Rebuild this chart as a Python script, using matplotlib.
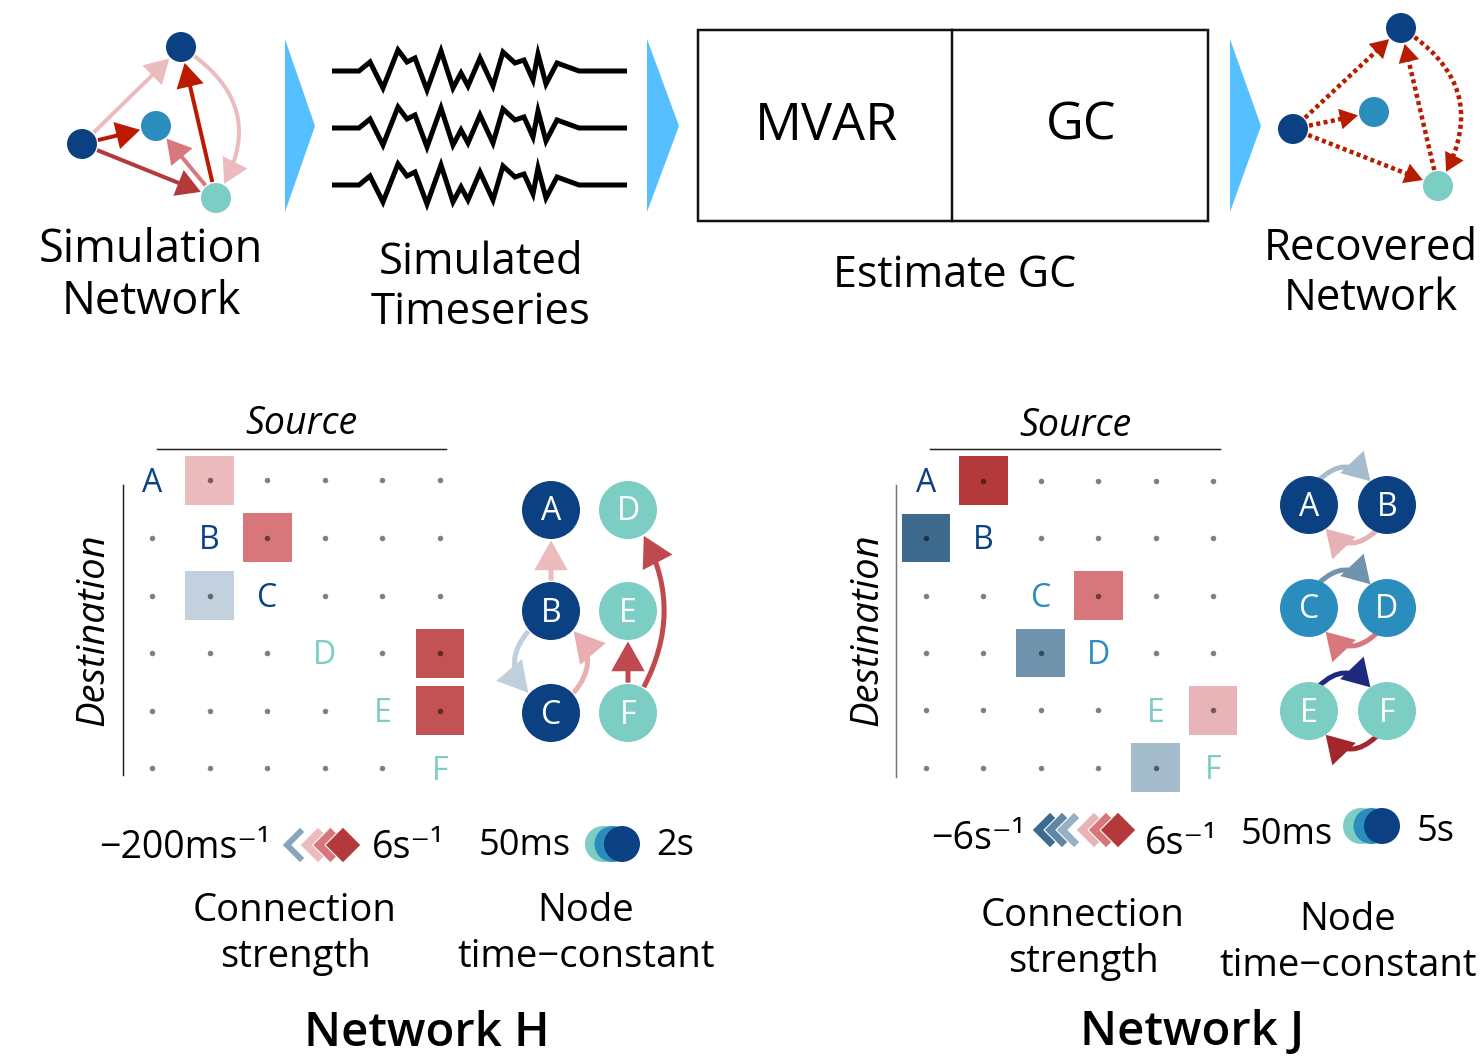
import math
import matplotlib
matplotlib.use("Agg")
import matplotlib.pyplot as plt
from matplotlib.patches import Circle, Rectangle, Polygon, FancyArrowPatch, ArrowStyle
from matplotlib.colors import LinearSegmentedColormap, TwoSlopeNorm

W, H = 1480, 1061
FONT = ['Open Sans', 'DejaVu Sans']
plt.rcParams['font.family'] = FONT

# ---------------------------------------------------------------- data
node_names = ['A', 'B', 'C', 'D', 'E', 'F']

# connection strength, row = destination, column = source (s^-1)
conn_H = [
    [0.0, 1.2, 0.0, 0.0, 0.0, 0.0],
    [0.0, 0.0, 3.0, 0.0, 0.0, 0.0],
    [0.0, -0.03, 0.0, 0.0, 0.0, 0.0],
    [0.0, 0.0, 0.0, 0.0, 0.0, 4.8],
    [0.0, 0.0, 0.0, 0.0, 0.0, 4.8],
    [0.0, 0.0, 0.0, 0.0, 0.0, 0.0],
]
conn_J = [
    [0.0, 6.0, 0.0, 0.0, 0.0, 0.0],
    [-6.0, 0.0, 0.0, 0.0, 0.0, 0.0],
    [0.0, 0.0, 0.0, 3.0, 0.0, 0.0],
    [0.0, 0.0, -3.0, 0.0, 0.0, 0.0],
    [0.0, 0.0, 0.0, 0.0, 0.0, 1.4],
    [0.0, 0.0, 0.0, 0.0, -1.6, 0.0],
]
strength_range_H = (-0.2, 6.0)
strength_range_J = (-6.0, 6.0)
legend_levels_H = [-0.08, 1.2, 3.0, 6.0]
legend_levels_J = [-6.0, -4.0, -2.0, 1.4, 3.0, 6.0]

# node time-constant classes (0 = 50 ms ... 2 = longest)
tau_class_H = [2, 2, 2, 0, 0, 0]
tau_class_J = [2, 2, 1, 1, 0, 0]
tau_colors = ['#7ccdc4', '#2b8cbe', '#0b4182']

# shape of the simulated time series trace (x, vertical offset)
trace_x = [332, 359, 370, 383, 398, 407, 415, 427, 441, 453, 461, 468, 480,
           493, 503, 515, 524, 533, 538, 546, 557, 579, 627]
trace_dy = [0, 0, -9, 17, -21, -9, -13, 19, -20, 17, 2, 15, -13,
            15, -19, -8, -11, 9, -17, 13, -8, 0, 0]
trace_base = [71, 128, 185]

# ---------------------------------------------------------------- colours
cmap = LinearSegmentedColormap.from_list('gc', [
    (0.0, '#3e6a8e'), (0.25, '#7094ae'), (0.42, '#bfcfdb'), (0.5, '#ffffff'),
    (0.6, '#ebbbbe'), (0.75, '#d8787c'), (1.0, '#b3393a')])

fig = plt.figure(figsize=(W / 100, H / 100), dpi=100)
ax = fig.add_axes([0, 0, 1, 1])
ax.set_xlim(0, W)
ax.set_ylim(H, 0)
ax.axis('off')

PX = 1 / 1.389  # points per pixel


def text(x, y, s, size, **kw):
    kw.setdefault('ha', 'center')
    kw.setdefault('va', 'center')
    ax.text(x, y, s, fontsize=size, family=FONT, **kw)


def arrow(p, q, pa, pb, color, lw, rad=0.0, hl=14, hw=7, z=2):
    st = ArrowStyle('-|>', head_length=hl, head_width=hw)
    a = FancyArrowPatch(p, q, patchA=pa, patchB=pb, arrowstyle=st,
                        mutation_scale=1, connectionstyle=f'arc3,rad={rad}',
                        color=color, lw=lw, shrinkA=1, shrinkB=1,
                        zorder=z, capstyle='butt', joinstyle='miter')
    ax.add_patch(a)


def dotted_arrow(p, q, pa, pb, color, lw, rad=0.0, hl=14, hw=7, z=2):
    cs = f'arc3,rad={rad}'
    shaft = FancyArrowPatch(p, q, patchA=pa, patchB=pb, arrowstyle='-',
                            connectionstyle=cs, color=color, lw=lw,
                            linestyle=(0, (0.9, 0.75)), shrinkA=1,
                            shrinkB=1 + 0.6 * hl, zorder=z, capstyle='butt')
    ax.add_patch(shaft)
    st = ArrowStyle('-|>', head_length=hl, head_width=hw)
    head = FancyArrowPatch(p, q, patchA=pa, patchB=pb, arrowstyle=st,
                           mutation_scale=1, connectionstyle=cs, color=color,
                           lw=0.01, shrinkA=1, shrinkB=1, zorder=z)
    ax.add_patch(head)


def node(x, y, r, color, label=None, size=23):
    c = Circle((x, y), r, color=color, zorder=5, lw=0)
    ax.add_patch(c)
    if label:
        ax.text(x, y + 2, label, color='white', fontsize=size, ha='center',
                va='center', zorder=6, family=FONT)
    return c


def rim(center, r, deg):
    x, y = center
    return (x + r * math.cos(math.radians(deg)),
            y - r * math.sin(math.radians(deg)))


# ---------------------------------------------------------------- top row
# simulation network
sim_pos = [(82, 144), (181, 47), (156, 126), (216, 198)]
sim_col = ['#0b4182', '#0b4182', '#2b8cbe', '#7ccdc4']
sim_nodes = [node(x, y, 15, c) for (x, y), c in zip(sim_pos, sim_col)]
sim_edges = [(0, 1, '#ebbbbe', 0.0), (0, 2, '#bb1a00', 0.0),
             (0, 3, '#b3393a', 0.0), (3, 2, '#d8787c', 0.0),
             (3, 1, '#bb1a00', 0.0), (1, 3, '#ebbbbe', -0.5)]
for i, j, c, r in sim_edges:
    arrow(sim_pos[i], sim_pos[j], sim_nodes[i], sim_nodes[j], c, 4 * PX,
          rad=r, hl=13, hw=7.5)
text(151, 276, 'Simulation\nNetwork', 32.5, linespacing=1.15)

# recovered network
rec_pos = [(1293, 129), (1401, 28), (1374, 112), (1438, 186)]
rec_nodes = [node(x, y, 15, c) for (x, y), c in zip(rec_pos, sim_col)]
rec_edges = [(0, 1, 0.0), (0, 2, 0.0), (0, 3, 0.0), (3, 1, 0.0), (1, 3, -0.5)]
for i, j, r in rec_edges:
    dotted_arrow(rec_pos[i], rec_pos[j], rec_nodes[i], rec_nodes[j],
                 '#b81c00', 4.5 * PX, rad=r, hl=13, hw=7.5)
text(1371, 274, 'Recovered\nNetwork', 31.5, linespacing=1.15)

# flow chevrons
for x0, x1 in [(285, 315), (647, 679), (1230, 1261)]:
    ax.add_patch(Polygon([(x0, 39), (x0, 212), (x1, 126)], closed=True,
                         color='#55bfff', lw=0))

# simulated time series
for b in trace_base:
    ax.plot(trace_x, [b + d for d in trace_dy], color='black', lw=5 * PX,
            solid_joinstyle='miter', solid_capstyle='butt')
text(481, 288, 'Simulated\nTimeseries', 31.5, linespacing=1.15)

# MVAR / GC box
ax.add_patch(Rectangle((698, 30), 510, 191, fill=False, lw=2.5 * PX,
                       ec='#111111'))
ax.plot([952, 952], [30, 221], color='#111111', lw=2.5 * PX)
text(827, 126, 'MVAR', 37.5)
text(1081, 126, 'GC', 37.5)
text(955, 276, 'Estimate GC', 31)


# ---------------------------------------------------------------- matrices
def matrix_panel(conn, vrange, left, top, step, label_colors):
    norm = TwoSlopeNorm(vmin=vrange[0], vcenter=0.0, vmax=vrange[1])
    n = len(conn)
    mx = fig.add_axes([left / W, 1 - (top + n * step) / H,
                       n * step / W, n * step / H])
    mx.set_xlim(-0.5, n - 0.5)
    mx.set_ylim(n - 0.5, -0.5)
    mx.patch.set_alpha(0)
    mx.axis('off')
    s = 0.85
    for i in range(n):
        for j in range(n):
            v = conn[i][j]
            if i == j:
                mx.text(j, i + 0.05, node_names[i], color=label_colors[i],
                        fontsize=23, ha='center', va='center', family=FONT)
                continue
            if v != 0:
                mx.add_patch(Rectangle((j - s / 2, i - s / 2), s, s,
                                       color=cmap(norm(v)), lw=0))
            mx.plot(j, i, 'o', ms=5.5 * PX, color='black', alpha=0.5,
                    mew=0)
    return norm


lab_H = [tau_colors[c] for c in tau_class_H]
lab_J = [tau_colors[c] for c in tau_class_J]
norm_H = matrix_panel(conn_H, strength_range_H, 123.2, 451.5, 57.6, lab_H)
norm_J = matrix_panel(conn_J, strength_range_J, 897.3, 452.0, 57.4, lab_J)

# axis titles
for cx, y, x0, x1, vx, vy0, vy1, dx, lc in [
        (301, 424, 157, 446, 123, 485, 775, 93, '#222222'),
        (1075, 426, 930, 1220, 896, 485, 777, 867, '#777777')]:
    text(cx, y, 'Source', 27, style='italic')
    ax.plot([x0, x1], [449, 449], color='#222222', lw=1.5 * PX)
    ax.plot([vx, vx], [vy0, vy1], color=lc, lw=1.5 * PX)
    text(dx, 630, 'Destination', 27.5, style='italic', rotation=90)

# ---------------------------------------------------------------- mini networks
NR = 29
pos_H = {'A': (551, 510), 'D': (628, 510), 'B': (551, 611), 'E': (628, 611),
         'C': (551, 713), 'F': (628, 713)}
circ_H = {k: node(x, y, NR, tau_colors[tau_class_H[node_names.index(k)]], k)
          for k, (x, y) in pos_H.items()}
edges_H = [('B', 'A', '#ebbbbe', 0.0), ('F', 'E', '#c0484f', 0.0),
           ('F', 'D', '#c0484f', 0.35), ('B', 'C', '#bfcfdb', 0.7),
           ('C', 'B', '#e8aeb1', 0.7)]
for a, b, c, r in edges_H:
    arrow(pos_H[a], pos_H[b], circ_H[a], circ_H[b], c, 5 * PX, rad=r,
          hl=16, hw=9)

pos_J = {'A': (1309, 505), 'B': (1387, 505), 'C': (1309, 608),
         'D': (1387, 608), 'E': (1309, 711), 'F': (1387, 711)}
circ_J = {k: node(x, y, NR, tau_colors[tau_class_J[node_names.index(k)]], k)
          for k, (x, y) in pos_J.items()}
# (source, target, colour, departure angle, arrival angle)
edges_J = [('A', 'B', '#a6bccd', 68, 125), ('B', 'A', '#e5b3b6', 248, 305),
           ('C', 'D', '#7094ae', 68, 125), ('D', 'C', '#d8787c', 248, 305),
           ('E', 'F', '#1d2a7f', 68, 125), ('F', 'E', '#a3262f', 248, 305)]
for a, b, c, d0, d1 in edges_J:
    st = ArrowStyle('-|>', head_length=14, head_width=8.5)
    ax.add_patch(FancyArrowPatch(rim(pos_J[a], NR - 2, d0),
                                 rim(pos_J[b], NR, d1), arrowstyle=st,
                                 mutation_scale=1,
                                 connectionstyle='arc3,rad=-0.5', color=c,
                                 lw=5 * PX, shrinkA=0, shrinkB=0, zorder=4,
                                 capstyle='butt', joinstyle='miter'))


# ---------------------------------------------------------------- legends
def diamonds(x0, y, step, colors, half=18):
    for k, c in enumerate(colors):
        cx = x0 + k * step
        ax.add_patch(Polygon([(cx - half, y), (cx, y - half),
                              (cx + half, y), (cx, y + half)], closed=True,
                             fc=c, ec='white', lw=0.8, zorder=3))


def discs(x0, y, step, colors, r=18):
    for k, c in enumerate(colors):
        ax.add_patch(Circle((x0 + k * step, y), r, color=c, lw=0, zorder=3))


leg_H = [cmap(norm_H(v)) for v in legend_levels_H]
diamonds(300, 845, 10, [leg_H[0], 'white'])
diamonds(318, 845, 12.5, leg_H[1:])
discs(603, 844, 9.5, tau_colors)
text(270, 848, '−200ms⁻¹', 27, ha='right')
text(372, 848, '6s⁻¹', 27, ha='left')
text(571, 846, '50ms', 26, ha='right')
text(656, 846, '2s', 26, ha='left')
text(295, 934, 'Connection\nstrength', 27.5, linespacing=1.3)
text(586, 934, 'Node\ntime−constant', 27.5, linespacing=1.3)
text(427, 1033, 'Network H', 34, weight='semibold')

leg_J = [cmap(norm_J(v)) for v in legend_levels_J]
diamonds(1050, 830, 12, leg_J[:3] + ['white'])
diamonds(1094, 830, 12, leg_J[3:])
discs(1361, 826, 10.5, tau_colors)
text(1025, 839, '−6s⁻¹', 27, ha='right')
text(1145, 844, '6s⁻¹', 27, ha='left')
text(1333, 835, '50ms', 26, ha='right')
text(1417, 832, '5s', 26, ha='left')
text(1083, 939, 'Connection\nstrength', 27.5, linespacing=1.3)
text(1348, 943, 'Node\ntime−constant', 27.5, linespacing=1.3)
text(1192, 1033, 'Network J', 34, weight='semibold')

fig.savefig('out.png', dpi=100)
